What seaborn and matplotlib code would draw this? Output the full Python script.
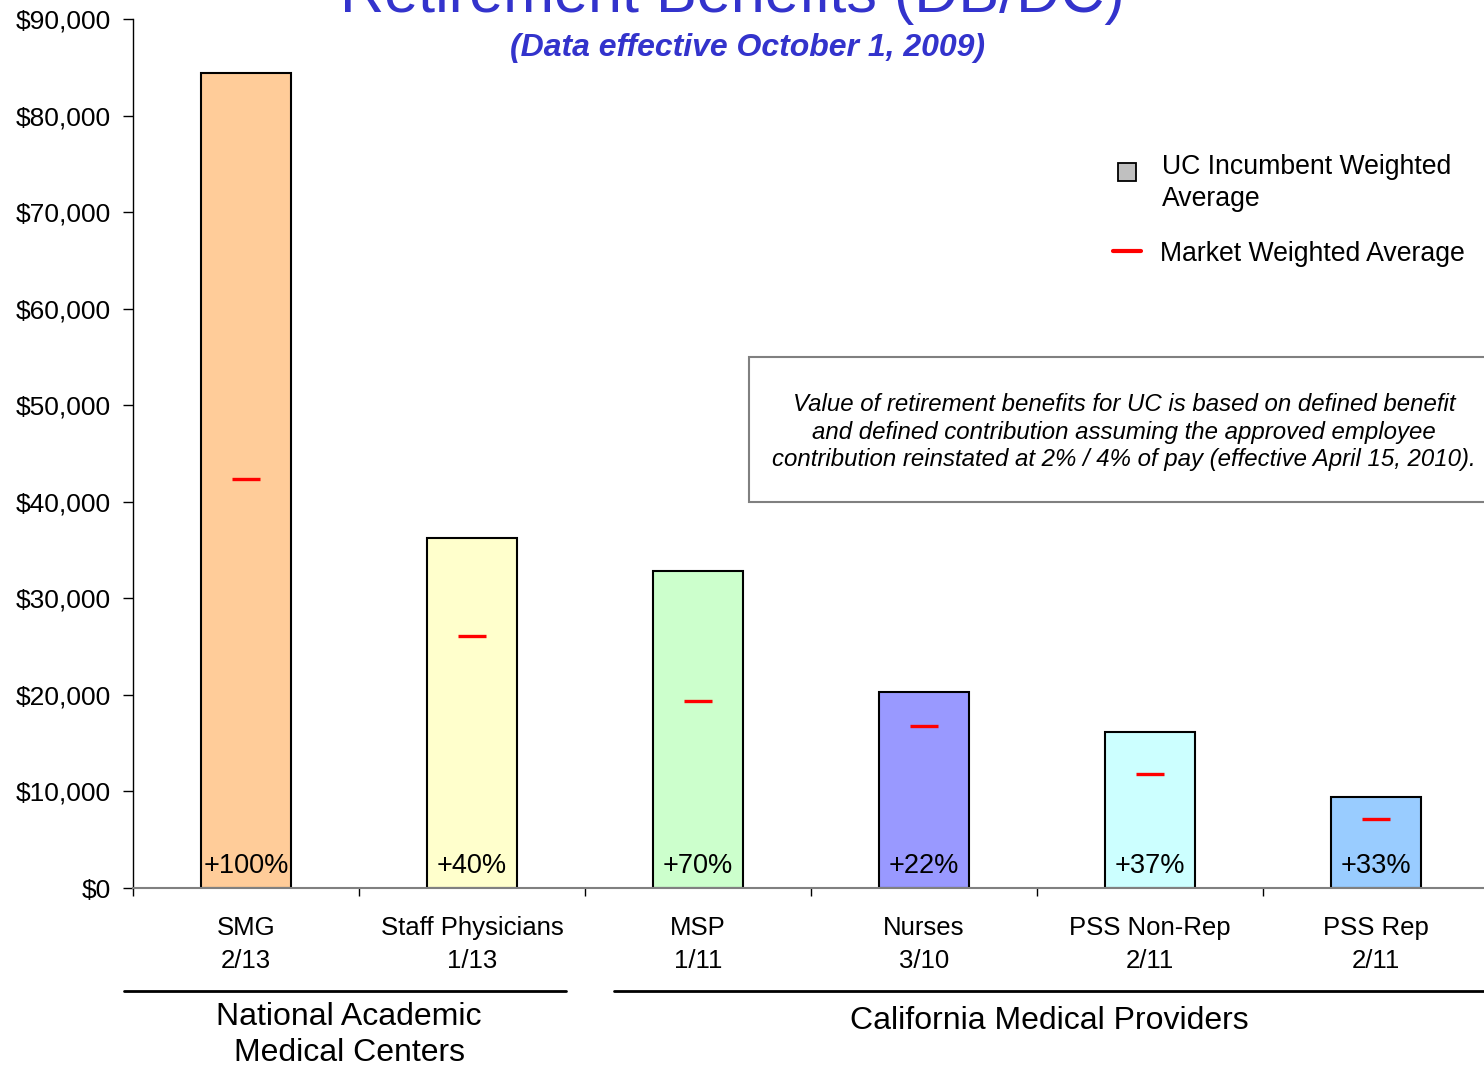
import numpy as np
import pandas as pd
import matplotlib
matplotlib.use("Agg")
import matplotlib.pyplot as plt
from matplotlib.lines import Line2D
from matplotlib.patches import Rectangle
from matplotlib.ticker import FuncFormatter, FixedLocator
import seaborn as sns

# ---- data -------------------------------------------------------------
groups = ["SMG", "Staff Physicians", "MSP", "Nurses", "PSS Non-Rep", "PSS Rep"]
survey_counts = ["2/13", "1/13", "1/11", "3/10", "2/11", "2/11"]
uc_incumbent = [84400, 36250, 32800, 20300, 16200, 9400]
market_avg = [42400, 26100, 19400, 16800, 11800, 7100]
pct_labels = ["+100%", "+40%", "+70%", "+22%", "+37%", "+33%"]
bar_colors = ["#FFCC99", "#FFFFCC", "#CCFFCC", "#9999FF", "#CCFFFF", "#99CCFF"]
y_ticks = list(range(0, 90001, 10000))

df = pd.DataFrame({"group": groups, "value": uc_incumbent})

# ---- style ------------------------------------------------------------
sns.set_theme(style="white")
plt.rcParams["font.family"] = ["Liberation Sans", "DejaVu Sans"]
plt.rcParams["text.color"] = "black"
plt.rcParams["xtick.color"] = "black"
plt.rcParams["ytick.color"] = "black"

W, H = 1484, 1066
fig = plt.figure(figsize=(W / 100, H / 100), dpi=100)


def fx(px):
    return px / W


def fy(py):
    return 1 - py / H


ax_left, ax_right, ax_top, ax_bottom = 133, 1489, 19, 888
ax = fig.add_axes([fx(ax_left), fy(ax_bottom), fx(ax_right - ax_left), (ax_bottom - ax_top) / H])

sns.barplot(data=df, x="group", y="value", hue="group", palette=bar_colors,
            width=0.4, edgecolor="black", linewidth=1.5, legend=False, ax=ax,
            saturation=1)

xpos = np.arange(len(groups))
ax.hlines(market_avg, xpos - 0.063, xpos + 0.063, colors="#FF0000", linewidth=2.4, zorder=5)

for x, lab in zip(xpos, pct_labels):
    ax.annotate(lab, xy=(x, 0), xytext=(0, 15.5), textcoords="offset points",
                ha="center", va="center", fontsize=19.5, color="black")

ax.set_xlim(-0.5, len(groups) - 0.5)
ax.set_ylim(0, 90000)
ax.set_yticks(y_ticks)
ax.yaxis.set_major_formatter(FuncFormatter(lambda v, p: f"${v:,.0f}"))
ax.tick_params(axis="y", which="major", left=True, length=7, width=1, color="black",
               labelsize=19, pad=9, labelcolor="black")

ax.set_xticks(xpos)
ax.set_xticklabels([f"{g}\n{c}" for g, c in zip(groups, survey_counts)],
                   fontsize=18.5, linespacing=1.47)
ax.tick_params(axis="x", which="major", length=0, pad=20, labelcolor="black")
ax.xaxis.set_minor_locator(FixedLocator(np.arange(-0.5, len(groups), 1.0)))
ax.tick_params(axis="x", which="minor", bottom=True, length=6, width=1, color="black")
ax.set_xlabel("")
ax.set_ylabel("")

for side in ["top", "right"]:
    ax.spines[side].set_visible(False)
ax.spines["left"].set_color("black")
ax.spines["left"].set_linewidth(1)
ax.spines["bottom"].set_color("#808080")
ax.spines["bottom"].set_linewidth(1.5)

# ---- titles -----------------------------------------------------------
fig.text(fx(732), fy(12), "Retirement Benefits (DB/DC)", ha="center", va="baseline",
         fontsize=44, color="#3333CC")
fig.text(fx(747), fy(56), "(Data effective October 1, 2009)", ha="center", va="baseline",
         fontsize=23, color="#3333CC", fontweight="bold", fontstyle="italic")

# ---- legend -----------------------------------------------------------
fig.add_artist(Line2D([fx(1127)], [fy(172)], marker="s", markersize=13,
                      markerfacecolor="#C0C0C0", markeredgecolor="black",
                      markeredgewidth=1.3, linestyle="none"))
fig.text(fx(1162), fy(183), "UC Incumbent Weighted\nAverage", ha="left", va="center",
         fontsize=19.2, linespacing=1.3)
fig.add_artist(Line2D([fx(1113), fx(1141)], [fy(251), fy(251)], color="#FF0000", linewidth=3))
fig.text(fx(1160), fy(254), "Market Weighted Average", ha="left", va="center", fontsize=19.2)

# ---- note box ---------------------------------------------------------
fig.add_artist(Rectangle((fx(749), fy(502)), fx(760), (502 - 357) / H, transform=fig.transFigure,
                         facecolor="white", edgecolor="#808080", linewidth=1.5))
fig.text(fx(1124), fy(432),
         "Value of retirement benefits for UC is based on defined benefit\n"
         "and defined contribution assuming the approved employee\n"
         "contribution reinstated at 2% / 4% of pay (effective April 15, 2010).",
         ha="center", va="center", fontsize=17.3, fontstyle="italic", linespacing=1.27)

# ---- group brackets ---------------------------------------------------
fig.add_artist(Line2D([fx(124), fx(566)], [fy(991), fy(991)], color="black", linewidth=2))
fig.add_artist(Line2D([fx(614), fx(1490)], [fy(991), fy(991)], color="black", linewidth=2))
fig.text(fx(349), fy(1035), "National Academic\nMedical Centers", ha="center", va="center",
         fontsize=23, linespacing=1.3)
fig.text(fx(1049), fy(1021), "California Medical Providers", ha="center", va="center",
         fontsize=23)

fig.savefig("out.png", dpi=100)
